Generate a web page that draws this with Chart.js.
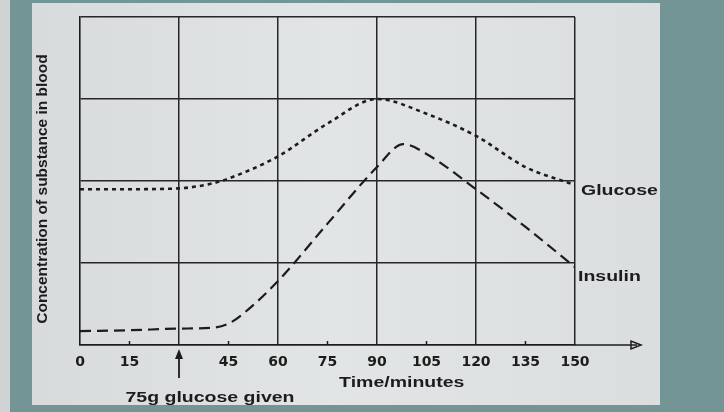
<!DOCTYPE html>
<html>
<head>
<meta charset="utf-8">
<script src="https://cdn.jsdelivr.net/npm/chart.js@4.4.0/dist/chart.umd.min.js"></script>
<style>
  html, body { margin: 0; padding: 0; background: #749595; }
  #wrap { width: 724px; height: 412px; }
</style>
</head>
<body>
<div id="wrap"><canvas id="glucose_chart" width="724" height="412"></canvas></div>
<script>
// tempo (minutos) e concentrações
var glucoseTimes = [0, 15, 30, 40, 45, 60, 75, 90, 105, 120, 135, 150];
var glucoseValues = [1.9, 1.9, 1.91, 1.97, 2.03, 2.3, 2.7, 3.0, 2.82, 2.55, 2.17, 1.95];
var insulinTimes = [0, 15, 30, 40, 45, 50, 60, 75, 90, 98, 105, 120, 135, 150];
var insulinValues = [0.17, 0.18, 0.2, 0.21, 0.26, 0.4, 0.78, 1.48, 2.17, 2.45, 2.33, 1.9, 1.44, 0.95];
var tickLabels = ["0", "15", "", "45", "60", "75", "90", "105", "120", "135", "150"];
var ink = '#1c1c1c';
var labelFont = '600 15px "Liberation Sans", Arial, sans-serif';

function toPoints(xs, ys) {
    return xs.map(function (x, i) { return { x: x, y: ys[i] }; });
}

// texto um pouco esticado na horizontal, como na foto
function wideText(ctx, txt, x, y, align) {
    ctx.save();
    ctx.translate(x, y);
    ctx.scale(1.3, 1);
    ctx.textAlign = align;
    ctx.textBaseline = 'middle';
    ctx.font = labelFont;
    ctx.fillText(txt, 0, 0);
    ctx.restore();
}

// papel + anotações
var paperPlugin = {
    id: 'paper',
    beforeDraw: function (chart) {
        var ctx = chart.ctx;
        ctx.save();
        ctx.fillStyle = '#cfd3d3';
        ctx.fillRect(0, 0, 10, 412);
        var g = ctx.createLinearGradient(0, 0, 660, 0);
        g.addColorStop(0, '#d6dada');
        g.addColorStop(0.5, '#e2e5e5');
        g.addColorStop(1, '#dadede');
        ctx.fillStyle = g;
        ctx.fillRect(32, 3, 628, 402);
        ctx.restore();
    },
    afterDraw: function (chart) {
        var ctx = chart.ctx;
        var xs = chart.scales.x, ys = chart.scales.y;
        var a = chart.chartArea;
        ctx.save();
        ctx.strokeStyle = ink;
        ctx.fillStyle = ink;
        ctx.lineWidth = 1.5;
        // seta do eixo x
        ctx.beginPath();
        ctx.moveTo(a.right, a.bottom);
        ctx.lineTo(a.right + 62, a.bottom);
        ctx.stroke();
        ctx.beginPath();
        ctx.moveTo(a.right + 66, a.bottom);
        ctx.lineTo(a.right + 56, a.bottom - 4);
        ctx.lineTo(a.right + 56, a.bottom + 4);
        ctx.closePath();
        ctx.stroke();
        // pequenas marcas
        for (var t = 15; t <= 150; t += 30) {
            var px = xs.getPixelForValue(t);
            ctx.beginPath();
            ctx.moveTo(px, a.bottom);
            ctx.lineTo(px, a.bottom - 4);
            ctx.stroke();
        }
        // seta "75g glucose given"
        var ax = xs.getPixelForValue(30);
        ctx.lineWidth = 1.8;
        ctx.beginPath();
        ctx.moveTo(ax, a.bottom + 33);
        ctx.lineTo(ax, a.bottom + 10);
        ctx.stroke();
        ctx.beginPath();
        ctx.moveTo(ax, a.bottom + 4);
        ctx.lineTo(ax - 4, a.bottom + 14);
        ctx.lineTo(ax + 4, a.bottom + 14);
        ctx.closePath();
        ctx.fill();

        wideText(ctx, '75g glucose given', ax + 31, a.bottom + 53, 'center');
        wideText(ctx, 'Time/minutes', xs.getPixelForValue(97.5), a.bottom + 38, 'center');

        // rótulos das curvas
        var gl = glucoseValues.length - 1;
        wideText(ctx, 'Glucose', xs.getPixelForValue(150) + 6, ys.getPixelForValue(glucoseValues[gl]) + 6, 'left');
        var il = insulinValues.length - 1;
        wideText(ctx, 'Insulin', xs.getPixelForValue(150) + 3, ys.getPixelForValue(insulinValues[il]) + 10, 'left');

        // título do eixo y
        ctx.save();
        ctx.translate(43, 189);
        ctx.rotate(-Math.PI / 2);
        ctx.textAlign = 'center';
        ctx.textBaseline = 'middle';
        ctx.font = '600 15.5px "Liberation Sans", Arial, sans-serif';
        ctx.fillText('Concentration of substance in blood', 0, 0);
        ctx.restore();
        ctx.restore();
    }
};

var ctxChart = document.getElementById('glucose_chart').getContext('2d');
var myChart = new Chart(ctxChart, {
    type: 'line',
    data: {
        datasets: [{
            label: 'Glucose',
            data: toPoints(glucoseTimes, glucoseValues),
            borderColor: ink,
            borderWidth: 2.6,
            borderDash: [4, 4],
            pointRadius: 0,
            fill: false,
            cubicInterpolationMode: 'monotone'
        }, {
            label: 'Insulin',
            data: toPoints(insulinTimes, insulinValues),
            borderColor: ink,
            borderWidth: 2.2,
            borderDash: [11, 6],
            pointRadius: 0,
            fill: false,
            cubicInterpolationMode: 'monotone'
        }]
    },
    options: {
        responsive: false,
        animation: false,
        layout: { padding: { left: 80, right: 149, top: 17, bottom: 34 } },
        plugins: { legend: { display: false }, tooltip: { enabled: false } },
        scales: {
            x: {
                type: 'linear',
                min: 0,
                max: 150,
                ticks: {
                    stepSize: 15,
                    padding: 9,
                    color: ink,
                    font: { size: 14, weight: 'bold', family: '"DejaVu Sans", sans-serif' },
                    callback: function (v) { return tickLabels[Math.round(v / 15)]; }
                },
                grid: {
                    drawTicks: false,
                    lineWidth: 1.5,
                    color: function (c) {
                        return (c.tick && c.tick.value % 30 === 0 && c.tick.value > 0) ? '#262626' : 'rgba(0,0,0,0)';
                    }
                },
                border: { display: true, color: ink, width: 1.6 },
                afterFit: function (scale) { scale.height = 33; }
            },
            y: {
                min: 0,
                max: 4,
                ticks: { display: false, stepSize: 1 },
                grid: { drawTicks: false, lineWidth: 1.5, color: '#262626' },
                border: { display: true, color: ink, width: 1.6 },
                afterFit: function (scale) { scale.width = 0; }
            }
        }
    },
    plugins: [paperPlugin]
});
</script>
</body>
</html>
